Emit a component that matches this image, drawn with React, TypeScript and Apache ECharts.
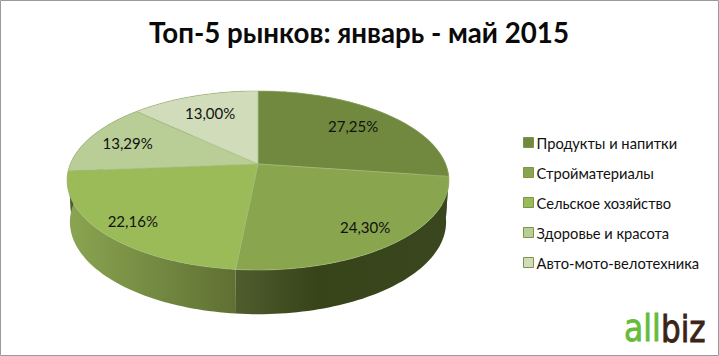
import React, { useEffect, useRef } from "react";
import * as echarts from "echarts";

const titleText = "Топ-5 рынков: январь - май 2015";
const categories = ["Продукты и напитки", "Стройматериалы", "Сельское хозяйство", "Здоровье и красота", "Авто-мото-велотехника"];
const shares = [27.25, 24.3, 22.16, 13.29, 13.0];
const labels = ["27,25%", "24,30%", "22,16%", "13,29%", "13,00%"];
const colors = ["#71893f", "#89a54e", "#9bbb59", "#b9cd96", "#d1ddba"];
const FONT = "Lato, Carlito, 'Open Sans', sans-serif";

// perspective layout of the disc
const CX = 258, CY = 164, A = 187.7, B = 86.5, K = 0.184;
const TOP_CY = 180.5, BOT_CY = 222, BOT_SX = 0.985, BOT_SY = 1.03;
const LABEL_R = [0.73, 0.815, 0.835, 0.77, 0.72];

const total = shares.reduce((a, b) => a + b, 0);
const angleAt = (i: number) => (shares.slice(0, i).reduce((a, b) => a + b, 0) / total) * Math.PI * 2;

const project = (t: number, r = 1): [number, number] => {
  const u = r * Math.sin(t), v = -r * Math.cos(t);
  const s = 1 / (1 - K * v);
  return [CX + A * u * s, CY + B * v * s];
};
const lower = ([x, y]: [number, number]): [number, number] => [
  CX + (x - CX) * BOT_SX,
  BOT_CY + (y - TOP_CY) * BOT_SY,
];
const arc = (a: number, b: number) => {
  const out: [number, number][] = [];
  const n = Math.max(8, Math.ceil((b - a) * 40));
  for (let k = 0; k <= n; k++) out.push(project(a + ((b - a) * k) / n));
  return out;
};

const sideFill = (i: number) =>
  i === 2
    ? new echarts.graphic.LinearGradient(0, 0, 1, 0, [
        { offset: 0, color: "#8ba551" },
        { offset: 1, color: "#5f7033" },
      ])
    : new echarts.graphic.LinearGradient(0, 0, 1, 0, [
        { offset: 0, color: "#4f5d2e" },
        { offset: 0.38, color: "#374319" },
        { offset: 1, color: "#3a461d" },
      ]);

export default function App() {
  const ref = useRef<HTMLDivElement>(null);
  useEffect(() => {
    const chart = echarts.init(ref.current!, null, { renderer: "svg" });
    const sideSeries = {
      type: "custom",
      name: "side",
      coordinateSystem: "none",
      silent: true,
      z: 1,
      data: shares.map((v) => [v]),
      renderItem: (p: any) => {
        const i = p.dataIndex;
        const top = arc(angleAt(i), angleAt(i + 1));
        return {
          type: "polygon",
          shape: { points: [...top, ...top.slice().reverse().map(lower)] },
          style: { fill: sideFill(i), stroke: "none" },
        };
      },
    };
    const topSeries = categories.map((name, c) => ({
      type: "custom",
      name,
      coordinateSystem: "none",
      silent: true,
      z: 2,
      itemStyle: { color: colors[c] },
      data: [[shares[c]]],
      renderItem: () => {
        const a = angleAt(c), b = angleAt(c + 1);
        const [lx, ly] = project((a + b) / 2, LABEL_R[c]);
        return {
          type: "group",
          children: [
            {
              type: "polygon",
              shape: { points: [[CX, CY], ...arc(a, b)] },
              style: { fill: colors[c], stroke: "#a3b97a", lineWidth: 0.6, lineJoin: "round" },
            },
            {
              type: "text",
              z2: 10,
              x: lx,
              y: ly,
              style: { text: labels[c], fill: "#111", font: `15px ${FONT}`, align: "center", verticalAlign: "middle" },
            },
          ],
        };
      },
    }));
    chart.setOption({
      animation: false,
      backgroundColor: "#fff",
      title: {
        text: titleText,
        left: 354,
        top: 13,
        textAlign: "center",
        textStyle: { fontFamily: FONT, fontSize: 27.7, fontWeight: "bold", color: "#0a0a0a" },
      },
      legend: {
        data: categories.map((name, c) => ({ name, itemStyle: { color: colors[c], borderColor: "#7b9449", borderWidth: 1 } })),
        orient: "vertical",
        left: 518,
        top: 130,
        icon: "rect",
        itemWidth: 10,
        itemHeight: 10,
        itemGap: 15,
        textStyle: { fontFamily: FONT, fontSize: 14.7, color: "#111", padding: [0, 0, 0, -2] },
        selectedMode: false,
      },
      graphic: [
        { type: "rect", shape: { x: 0.5, y: 0.5, width: 718, height: 355 }, style: { fill: "none", stroke: "#9a9a9a", lineWidth: 1 }, z: 100 },
        { type: "text", x: 624, y: 347, scaleX: 0.85, style: { text: "all", fill: "#66bb3c", stroke: "#66bb3c", lineWidth: 0.9, font: "500 37px 'DejaVu Sans'", verticalAlign: "bottom" }, z: 100 },
        { type: "text", x: 661, y: 347, scaleX: 0.84, style: { text: "biz", fill: "#3a2416", stroke: "#3a2416", lineWidth: 0.9, font: "500 37px 'DejaVu Sans'", verticalAlign: "bottom" }, z: 100 },
      ],
      series: [sideSeries, ...topSeries],
    });
    return () => chart.dispose();
  }, []);
  return <div ref={ref} style={{ position: "fixed", left: 0, top: 0, width: 719, height: 356 }} />;
}
